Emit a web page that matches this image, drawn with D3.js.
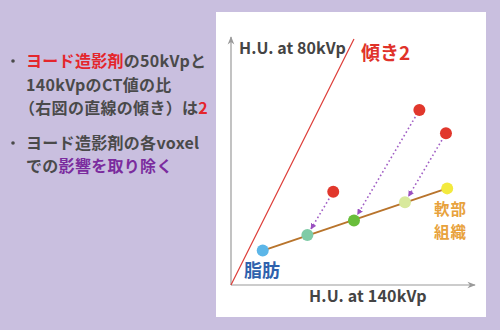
<!DOCTYPE html>
<html>
<head>
<meta charset="utf-8">
<script src="https://cdn.jsdelivr.net/npm/d3@7"></script>
<style>
  body { margin: 0; background: #c9bfdf; }
  svg { display: block; }
</style>
</head>
<body>
<svg id="chart" width="500" height="330"></svg>
<script>
// Points sur la droite des tissus (x = HU 140kVp, y = HU 80kVp)
var tissueNames = ["fat", "t1", "t2", "t3", "soft"];
var tissueX = [13.0, 31.3, 50.4, 71.3, 88.6];
var tissueY = [14.1, 20.5, 26.4, 33.9, 39.6];
var tissueColors = ["#5cb6e8", "#7fcba6", "#68bd3a", "#d8e99c", "#f3ea3e"];

// Voxels avec iode (points rouges) et leur cible sur la droite
var iodineX = [41.9, 77.2, 88.1];
var iodineY = [38.2, 71.7, 62.2];
var iodineTarget = [1, 2, 3];

// Droite de pente 2
var slopeLineX = [0, 50.4];
var slope = 2;

var svg = d3.select("#chart");

// Panneau blanc
svg.append("rect")
    .attr("x", 216).attr("y", 12)
    .attr("width", 270).attr("height", 305)
    .attr("fill", "#ffffff");

var x = d3.scaleLinear().domain([0, 100]).range([231, 475]);
var y = d3.scaleLinear().domain([0, 100]).range([285, 41]);

var defs = svg.append("defs");
defs.append("marker")
    .attr("id", "axisArrow")
    .attr("viewBox", "0 0 10 10")
    .attr("refX", 9).attr("refY", 5)
    .attr("markerWidth", 7).attr("markerHeight", 7)
    .attr("orient", "auto")
    .append("path")
    .attr("d", "M0,1 L10,5 L0,9 L3,5 Z")
    .attr("fill", "#9a9a9a");
defs.append("marker")
    .attr("id", "dotArrow")
    .attr("viewBox", "0 0 10 10")
    .attr("refX", 9).attr("refY", 5)
    .attr("markerWidth", 6).attr("markerHeight", 6)
    .attr("markerUnits", "userSpaceOnUse")
    .attr("orient", "auto")
    .append("path")
    .attr("d", "M0,0 L10,5 L0,10 Z")
    .attr("fill", "#9a4fc0");

// Axes
svg.append("line")
    .attr("x1", x(0)).attr("y1", y(0))
    .attr("x2", x(0)).attr("y2", y(100) - 4)
    .attr("stroke", "#9a9a9a").attr("stroke-width", 1.2)
    .attr("marker-end", "url(#axisArrow)");
svg.append("line")
    .attr("x1", x(0)).attr("y1", y(0))
    .attr("x2", x(100)).attr("y2", y(0))
    .attr("stroke", "#9a9a9a").attr("stroke-width", 1.2)
    .attr("marker-end", "url(#axisArrow)");

// Droite rouge (pente 2)
svg.append("line")
    .attr("x1", x(slopeLineX[0])).attr("y1", y(slopeLineX[0] * slope))
    .attr("x2", x(slopeLineX[1])).attr("y2", y(slopeLineX[1] * slope))
    .attr("stroke", "#dd3a35").attr("stroke-width", 1.2);

// Droite des tissus
svg.append("line")
    .attr("x1", x(tissueX[0])).attr("y1", y(tissueY[0]))
    .attr("x2", x(tissueX[4])).attr("y2", y(tissueY[4]))
    .attr("stroke", "#b8742c").attr("stroke-width", 2);

// Flèches pointillées
var r = 6;
iodineX.forEach(function (vx, i) {
    var t = iodineTarget[i];
    var x1 = x(vx), y1 = y(iodineY[i]);
    var x2 = x(tissueX[t]), y2 = y(tissueY[t]);
    var len = Math.hypot(x2 - x1, y2 - y1);
    var ux = (x2 - x1) / len, uy = (y2 - y1) / len;
    svg.append("line")
        .attr("x1", x1 + ux * (r + 2)).attr("y1", y1 + uy * (r + 2))
        .attr("x2", x2 - ux * (r + 1)).attr("y2", y2 - uy * (r + 1))
        .attr("stroke", "#a05ec4").attr("stroke-width", 1.6)
        .attr("stroke-dasharray", "1.6,2.6")
        .attr("marker-end", "url(#dotArrow)");
});

// Points
svg.selectAll(".tissue")
    .data(tissueX)
    .enter().append("circle")
    .attr("class", "tissue")
    .attr("cx", d => x(d))
    .attr("cy", (d, i) => y(tissueY[i]))
    .attr("r", r)
    .attr("fill", (d, i) => tissueColors[i]);

svg.selectAll(".iodine")
    .data(iodineX)
    .enter().append("circle")
    .attr("class", "iodine")
    .attr("cx", d => x(d))
    .attr("cy", (d, i) => y(iodineY[i]))
    .attr("r", r)
    .attr("fill", "#e1372c");

// Textes du graphique
var font = "'Noto Sans CJK JP', 'Noto Sans', sans-serif";
svg.append("text")
    .attr("x", 239).attr("y", 54)
    .attr("font-family", font).attr("font-weight", "bold").attr("font-size", 16)
    .attr("fill", "#444").attr("letter-spacing", 0.1)
    .text("H.U. at 80kVp");
svg.append("text")
    .attr("x", 309).attr("y", 302)
    .attr("font-family", font).attr("font-weight", "bold").attr("font-size", 16)
    .attr("fill", "#444").attr("letter-spacing", 0.2)
    .text("H.U. at 140kVp");
svg.append("text")
    .attr("x", 361).attr("y", 60)
    .attr("font-family", font).attr("font-weight", "bold").attr("font-size", 19)
    .attr("fill", "#e0322a")
    .text("傾き2");
svg.append("text")
    .attr("x", 244).attr("y", 277)
    .attr("font-family", font).attr("font-weight", "bold").attr("font-size", 18)
    .attr("fill", "#2f62ad")
    .text("脂肪");

// Étiquette sur deux lignes
var softLabel = svg.append("text")
    .attr("y", 215)
    .attr("font-family", font).attr("font-weight", "bold").attr("font-size", 15.5)
    .attr("letter-spacing", 1)
    .attr("fill", "#e8a23c");
softLabel.append("tspan").attr("x", 434).text("軟部");
softLabel.append("tspan").attr("x", 434).attr("dy", 22.5).text("組織");

// Texte de gauche
var lines = [
    { y: 67, bullet: true, parts: [["ヨード造影剤", "#e4262c"], ["の50kVpと", "#4a4a4a"]] },
    { y: 91, bullet: false, parts: [["140kVpのCT値の比", "#4a4a4a"]] },
    { y: 114, bullet: false, parts: [["（右図の直線の傾き）は", "#4a4a4a"], ["2", "#e4262c"]] },
    { y: 149, bullet: true, parts: [["ヨード造影剤の各voxel", "#4a4a4a"]] },
    { y: 172, bullet: false, parts: [["での", "#4a4a4a"], ["影響を取り除く", "#7b2c9e"]] }
];
lines.forEach(function (l) {
    if (l.bullet) {
        svg.append("circle")
            .attr("cx", 13).attr("cy", l.y - 6).attr("r", 1.8)
            .attr("fill", "#4a4a4a");
    }
    var t = svg.append("text")
        .attr("x", l.parts[0][0].startsWith("（") ? 19 : 26).attr("y", l.y)
        .attr("font-family", font).attr("font-weight", "bold").attr("font-size", 16)
        .attr("letter-spacing", 0.3);
    l.parts.forEach(function (p) {
        t.append("tspan").attr("fill", p[1]).text(p[0]);
    });
});
</script>
</body>
</html>
